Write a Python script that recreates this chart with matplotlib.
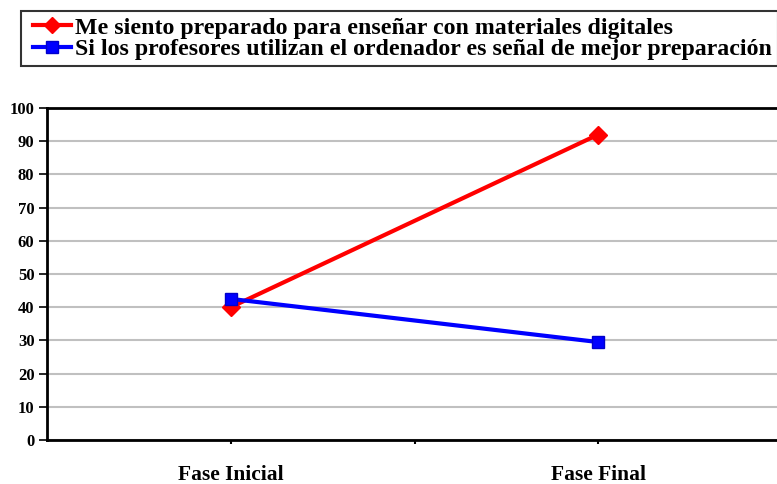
import matplotlib
matplotlib.use("Agg")
import matplotlib.pyplot as plt
from matplotlib.lines import Line2D
from matplotlib.legend_handler import HandlerLine2D

categories = ["Fase Inicial", "Fase Final"]
serie_preparado = [40, 92]
serie_ordenador = [42.5, 29.5]
labels = ["Me siento preparado para enseñar con materiales digitales",
          "Si los profesores utilizan el ordenador es señal de mejor preparación"]
yticks = list(range(0, 101, 10))

plt.rcParams['font.family'] = ['Liberation Serif', 'DejaVu Serif']
plt.rcParams['font.weight'] = 'bold'

W, H = 777, 484
fig = plt.figure(figsize=(W/100, H/100), dpi=100)
left, right, bottom, top = 47, 782, 44, 376  # pixels from bottom
ax = fig.add_axes([left/W, bottom/H, (right-left)/W, (top-bottom)/H])

x = [1, 2]
ax.plot(x, serie_preparado, color='#ff0000', lw=3, marker='D', ms=9, mec='#ff0000', mfc='#ff0000', zorder=3)
ax.plot(x, serie_ordenador, color='#0000ff', lw=3, marker='s', ms=9, mec='#0000cc', mfc='#0000ff', zorder=4)

ax.set_xlim(0.5, 2.5)
ax.set_ylim(0, 100)
ax.set_yticks(yticks)
ax.set_yticklabels([str(v) for v in yticks], fontsize=12, fontweight='bold')
ax.set_xticks([1, 1.5, 2])
ax.set_xticklabels([categories[0], "", categories[1]], fontsize=15.5, fontweight='bold')
ax.tick_params(axis='x', length=3, width=1.5, pad=15)
ax.tick_params(axis='y', length=6, width=1.2, pad=3)
ax.grid(axis='y', color='#c0c0c0', lw=1.5)
ax.set_axisbelow(True)
for s in ['left', 'bottom', 'top']:
    ax.spines[s].set_color('black')
    ax.spines[s].set_linewidth(2)
ax.spines['right'].set_visible(False)

handles = [Line2D([], [], color='#ff0000', lw=3, marker='D', ms=8),
           Line2D([], [], color='#0000ff', lw=3, marker='s', ms=8, mec='#0000cc')]
leg = fig.legend(handles, labels, loc='upper left', bbox_to_anchor=(21/W, 1 - 11/H),
                 prop={'family': 'Liberation Serif', 'weight': 'bold', 'size': 17.2},
                 frameon=True, fancybox=False, edgecolor='black', handlelength=1.83,
                 handletextpad=0.17, borderpad=0.25, labelspacing=0.0, borderaxespad=0,
                 handler_map={Line2D: HandlerLine2D(xpad=0.25)})
leg.get_frame().set_linewidth(1.5)

fig.savefig("out.png", dpi=100)
